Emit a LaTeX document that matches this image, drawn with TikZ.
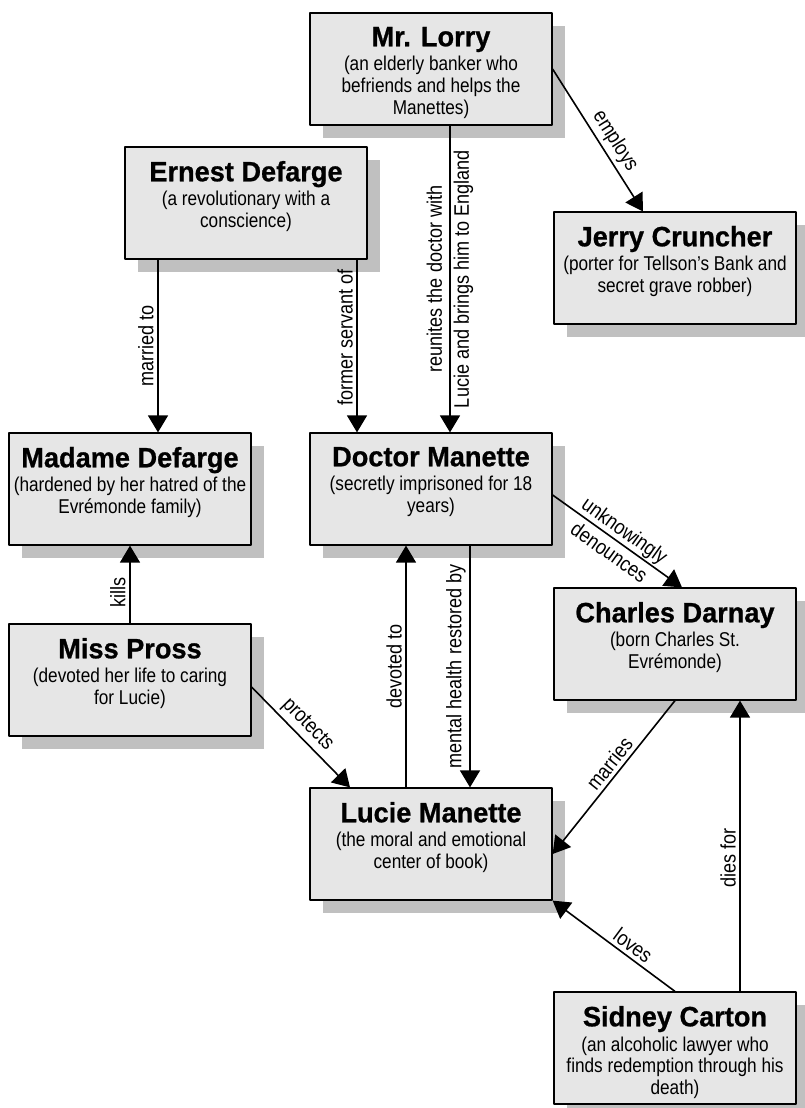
\documentclass[tikz,border=0pt]{standalone}
\usepackage{fontspec}
\setmainfont{Liberation Sans}[FakeStretch=0.86]
\newfontfamily\headfamily{Liberation Sans}[FakeStretch=0.97, FakeBold=0.8]
\usetikzlibrary{arrows.meta,shadows}

\definecolor{boxgray}{RGB}{230,230,230}
\definecolor{shadowgray}{RGB}{192,192,192}
\newcommand{\who}[2]{\parbox[c][84pt][t]{242pt}{\centering{\headfamily\bfseries\fontsize{28}{30}\selectfont #1}\\[3pt]#2}}

\begin{document}
\begin{tikzpicture}[x=1pt, y=-1pt, >={Triangle[width=20pt,length=17pt]}, line join=round, font=\fontsize{20}{21.7}\selectfont]
	\tikzset{
		person/.style={draw=black, line width=1.2pt, fill=boxgray, minimum width=242pt, minimum height=112pt, inner sep=0pt,
			drop shadow={shadow xshift=13pt, shadow yshift=-13pt, fill=shadowgray, opacity=1}},
		link/.style={->, line width=1.6pt},
		tag/.style={inner sep=3.5pt, font=\fontsize{21}{22}\selectfont}
	}
	\useasboundingbox (0,0) rectangle (805,1108);

	% Characters
	\node[person] (lorry) at (431,69) {\who{Mr. Lorry}{(an elderly banker who\\befriends and helps the\\Manettes)}};
	\node[person] (ernest) at (246,203) {\who{Ernest Defarge}{(a revolutionary with a\\conscience)}};
	\node[person] (jerry) at (675,268) {\who{Jerry Cruncher}{(porter for Tellson’s Bank and\\secret grave robber)}};
	\node[person] (madame) at (130,489) {\who{Madame Defarge}{(hardened by her hatred of the\\Evrémonde family)}};
	\node[person] (doctor) at (431,489) {\who{Doctor Manette}{(secretly imprisoned for 18\\years)}};
	\node[person] (charles) at (675,644) {\who{Charles Darnay}{(born Charles St.\\Evrémonde)}};
	\node[person] (pross) at (130,680) {\who{Miss Pross}{(devoted her life to caring\\for Lucie)}};
	\node[person] (lucie) at (431,844) {\who{Lucie Manette}{(the moral and emotional\\center of book)}};
	\node[person] (sidney) at (675,1048) {\who{Sidney Carton}{(an alcoholic lawyer who\\finds redemption through his\\death)}};

	% Vertical links, label on the left
	\draw[link] ([xshift=-88pt]ernest.south) -- node[tag, rotate=90, anchor=south] {married to} ([xshift=-88pt]ernest.south |- madame.north);
	\draw[link] ([xshift=111pt]ernest.south) -- node[tag, pos=0.45, rotate=90, anchor=south] {former servant of} ([xshift=111pt]ernest.south |- doctor.north);
	\draw[link] (pross.north) -- node[tag, pos=0.4, rotate=90, anchor=south] {kills} (madame.south);
	\draw[link] ([xshift=-25pt]lucie.north) -- node[tag, rotate=90, anchor=south] {devoted to} ([xshift=-25pt]lucie.north |- doctor.south);
	\draw[link] ([xshift=39pt]doctor.south) -- node[tag, rotate=90, anchor=south] {mental health restored by} ([xshift=39pt]doctor.south |- lucie.north);
	\draw[link] ([xshift=65pt]sidney.north) -- node[tag, pos=0.46, rotate=90, anchor=south] {dies for} ([xshift=65pt]sidney.north |- charles.south);

	% Links with the line between two label lines
	\draw[link] ([xshift=19pt]lorry.south) -- node[tag, rotate=90, align=center] {reunites the doctor with\\[5pt]Lucie and brings him to England} ([xshift=19pt]lorry.south |- doctor.north);
	\draw[link] ([yshift=-6pt]doctor.east) -- node[tag, sloped, align=center] {unknowingly\\[5pt]denounces} ([xshift=7pt]charles.north);

	% Slanted links
	\draw[link] (lorry.east) -- node[tag, pos=0.56, sloped, above] {employs} ([xshift=-32pt]jerry.north);
	\draw[link] ([yshift=-7pt]pross.east) -- node[tag, pos=0.47, sloped, above] {protects} ([xshift=-81pt]lucie.north);
	\draw[link] (charles.south) -- node[tag, pos=0.46, sloped, above] {marries} ([yshift=-10pt]lucie.east);
	\draw[link] (sidney.north) -- node[tag, pos=0.4, sloped, above] {loves} (lucie.south east);
\end{tikzpicture}
\end{document}
